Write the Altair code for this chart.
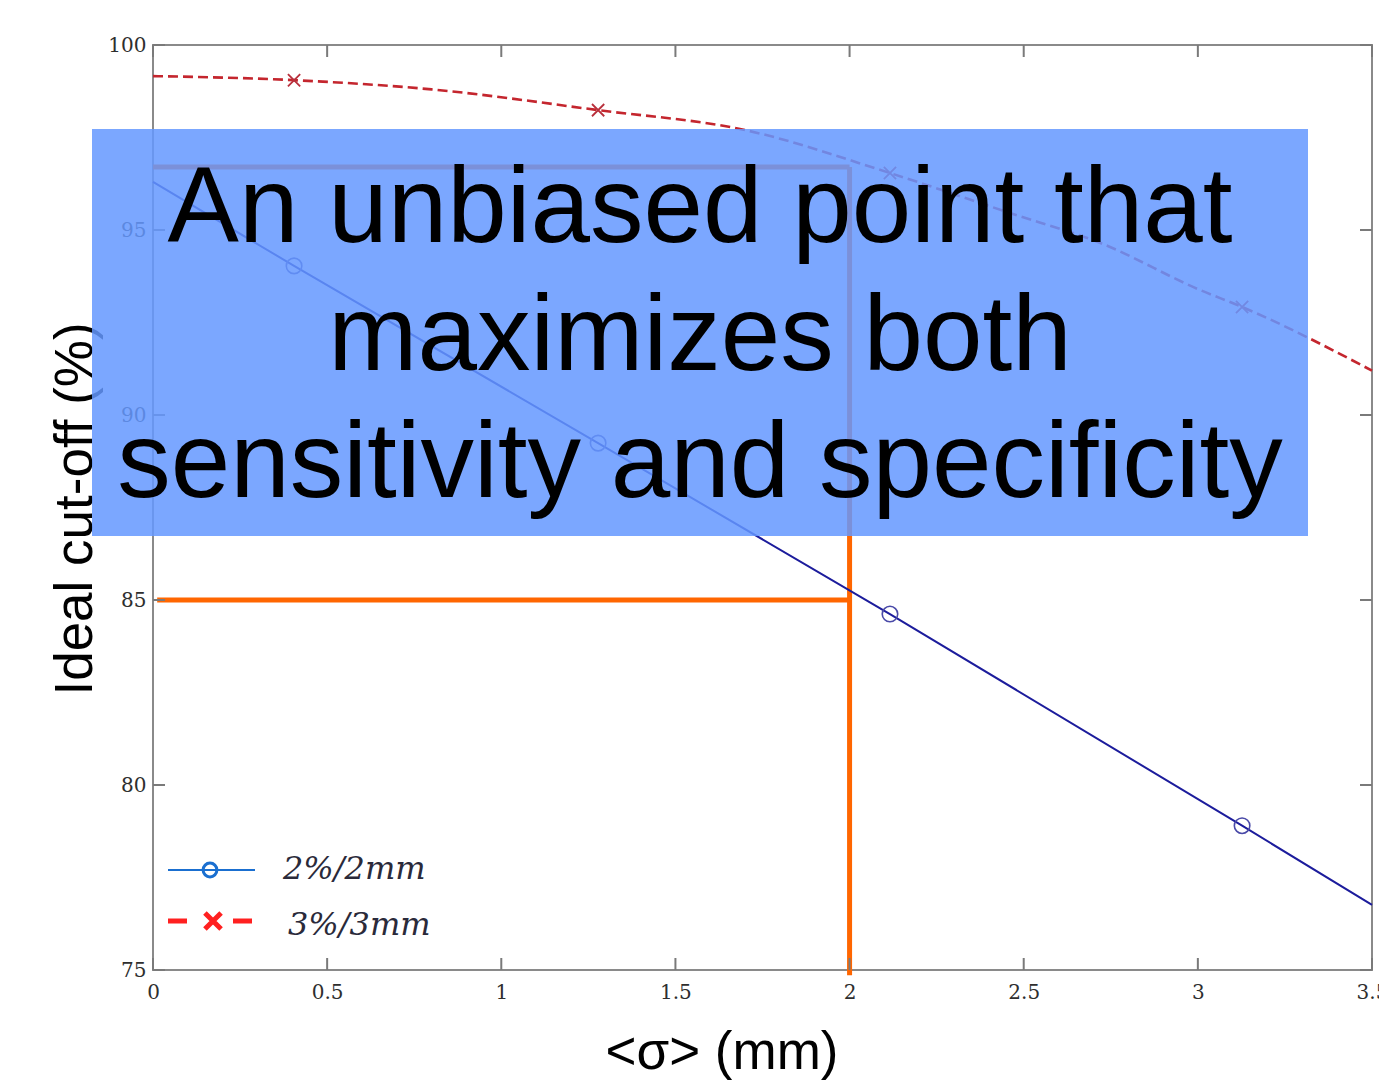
import altair as alt
import pandas as pd

# ---- data ----
series = ["2%/2mm", "3%/3mm"]

# curve vertices
x_blue_line = [0.0, 0.405, 1.278, 2.116, 3.127, 3.5]
y_blue_line = [96.3, 94.03, 89.24, 84.62, 78.9, 76.76]

x_red_line = [0.0, 0.405, 0.8, 1.278, 1.7, 2.116, 2.46, 2.72, 3.006, 3.127, 3.5]
y_red_line = [99.16, 99.05, 98.8, 98.24, 97.7, 96.54, 95.46, 94.65, 93.38, 92.92, 91.2]

# marker positions
x_markers = [0.405, 1.278, 2.116, 3.127]
y_blue_markers = [94.03, 89.24, 84.62, 78.9]
y_red_markers = [99.05, 98.24, 96.54, 92.92]

# orange guide lines
guide_x = 2.0
guide_y = 85.0
guide_top = 96.7
guide_bottom = 74.86

x_ticks = [0, 0.5, 1, 1.5, 2, 2.5, 3, 3.5]
y_ticks = [75, 80, 85, 90, 95, 100]

annotation_lines = ["An unbiased point that", "maximizes both", "sensitivity and specificity"]
x_title = "<σ> (mm)"
y_title = "Ideal cut-off (%)"

# ---- layout ----
W, H = 1219, 925
xs = alt.Scale(domain=[0, 3.5], nice=False, zero=False)
ys = alt.Scale(domain=[75, 100], nice=False, zero=False)

blue_df = pd.DataFrame({"x": x_blue_line, "y": y_blue_line})
red_df = pd.DataFrame({"x": x_red_line, "y": y_red_line})
bm_df = pd.DataFrame({"x": x_markers, "y": y_blue_markers})
rm_df = pd.DataFrame({"x": x_markers, "y": y_red_markers})
xt_df = pd.DataFrame({"x": x_ticks})
yt_df = pd.DataFrame({"y": y_ticks})
one = pd.DataFrame({"a": [0]})

guides_df = pd.DataFrame({
    "x": [0.012, 0.0, guide_x],
    "x2": [guide_x, guide_x, guide_x],
    "y": [guide_y, guide_top, guide_top],
    "y2": [guide_y, guide_top, guide_bottom],
})

tick_font = "DejaVu Serif"
axis_x = alt.Axis(values=x_ticks, format="~g", grid=False, domain=False, ticks=False,
                  labelFont=tick_font, labelFontSize=20, labelColor="#2e2e2e",
                  labelPadding=12, labelFlush=False, title=None)
axis_y = alt.Axis(values=y_ticks, format="d", grid=False, domain=False, ticks=False,
                  labelFont=tick_font, labelFontSize=20, labelColor="#2e2e2e",
                  labelPadding=7, labelFlush=False, title=None)

X = lambda: alt.X("x:Q", scale=xs, axis=axis_x)
Y = lambda: alt.Y("y:Q", scale=ys, axis=axis_y)

guides = alt.Chart(guides_df).mark_rule(color="#ff6600", strokeWidth=5, strokeCap="butt").encode(
    x=alt.X("x:Q", scale=xs, axis=axis_x), x2="x2:Q",
    y=alt.Y("y:Q", scale=ys, axis=axis_y), y2="y2:Q")

red_line = alt.Chart(red_df).mark_line(color="#c4262e", strokeWidth=2.6, strokeDash=[10, 5],
                                       interpolate="monotone").encode(x=X(), y=Y())
blue_line = alt.Chart(blue_df).mark_line(color="#1c1c9c", strokeWidth=2).encode(x=X(), y=Y())

blue_pts = alt.Chart(bm_df).mark_point(shape="circle", filled=False, size=240, color="#4a4aa8",
                                       strokeWidth=1.6, opacity=1).encode(x=X(), y=Y())
xshape = "M-1,-1L1,1M-1,1L1,-1"
red_pts = alt.Chart(rm_df).mark_point(shape=xshape, filled=False, size=150, color="#b8303c",
                                      strokeWidth=1.8, opacity=1).encode(x=X(), y=Y())

tick_col = "#7a7a7a"
t_bottom = alt.Chart(xt_df).mark_rule(color=tick_col, strokeWidth=2).encode(
    x=alt.X("x:Q", scale=xs), y=alt.value(H), y2=alt.value(H - 12))
t_top = alt.Chart(xt_df).mark_rule(color=tick_col, strokeWidth=2).encode(
    x=alt.X("x:Q", scale=xs), y=alt.value(0), y2=alt.value(12))
t_left = alt.Chart(yt_df).mark_rule(color=tick_col, strokeWidth=2).encode(
    y=alt.Y("y:Q", scale=ys), x=alt.value(0), x2=alt.value(12))
t_right = alt.Chart(yt_df).mark_rule(color=tick_col, strokeWidth=2).encode(
    y=alt.Y("y:Q", scale=ys), x=alt.value(W), x2=alt.value(W - 12))

# legend (drawn inside the plot, lower left)
leg_blue_line = alt.Chart(one).mark_rule(color="#1a6fd0", strokeWidth=2).encode(
    x=alt.value(15), x2=alt.value(102), y=alt.value(825))
leg_blue_pt = alt.Chart(one).mark_point(shape="circle", filled=False, size=190, color="#1a6fd0",
                                        strokeWidth=3, opacity=1).encode(x=alt.value(57), y=alt.value(825))
leg_red_line = alt.Chart(one).mark_rule(color="#ff2020", strokeWidth=5, strokeDash=[19, 46]).encode(
    x=alt.value(15), x2=alt.value(100), y=alt.value(876))
leg_red_pt = alt.Chart(one).mark_point(shape=xshape, filled=False, size=260, color="#ff2020",
                                       strokeWidth=5, opacity=1).encode(x=alt.value(60), y=alt.value(876))
leg_t1 = alt.Chart(one).mark_text(text=series[0], font="DejaVu Serif", fontStyle="italic", fontSize=32,
                                  color="#2a2a3a", align="left", baseline="alphabetic").encode(
    x=alt.value(130), y=alt.value(834))
leg_t2 = alt.Chart(one).mark_text(text=series[1], font="DejaVu Serif", fontStyle="italic", fontSize=32,
                                  color="#2a2a3a", align="left", baseline="alphabetic").encode(
    x=alt.value(135), y=alt.value(890))

# axis titles
ytitle = alt.Chart(one).mark_text(text=y_title, font="Liberation Sans", fontSize=53, color="black",
                                  angle=270, align="center", baseline="alphabetic").encode(
    x=alt.value(-61), y=alt.value(464))
xtitle = alt.Chart(one).mark_text(text=x_title, font="Liberation Sans", fontSize=53, color="black",
                                  align="center", baseline="alphabetic").encode(
    x=alt.value(569), y=alt.value(1024))

# overlay box with annotation
overlay = alt.Chart(one).mark_rect(color="#6498ff", opacity=0.85).encode(
    x=alt.value(-61), x2=alt.value(1155), y=alt.value(84), y2=alt.value(491))
ann_layers = []
for line, base in zip(annotation_lines, [197, 325, 452]):
    ann_layers.append(alt.Chart(one).mark_text(text=line, font="Liberation Sans", fontSize=107,
                                               color="black", align="center",
                                               baseline="alphabetic").encode(
        x=alt.value(547), y=alt.value(base)))

chart = alt.layer(
    guides, red_line, blue_line, blue_pts, red_pts,
    t_bottom, t_top, t_left, t_right,
    leg_blue_line, leg_blue_pt, leg_red_line, leg_red_pt, leg_t1, leg_t2,
    ytitle, xtitle, overlay, *ann_layers
).properties(
    width=W, height=H,
    padding={"left": 145, "top": 37, "right": 7, "bottom": 115},
    autosize=alt.AutoSizeParams(type="none"),
    background="white",
).configure_view(stroke="#8a8a8a", strokeWidth=2)

chart.save("out.html", embed_options={"renderer": "svg", "actions": False})
